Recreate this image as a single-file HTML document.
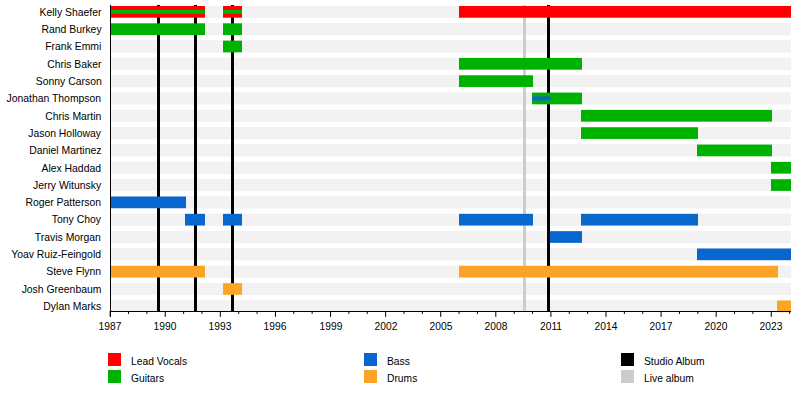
<!DOCTYPE html>
<html><head><meta charset="utf-8">
<style>
html,body{margin:0;padding:0;background:#fff;}
body{width:800px;height:401px;position:relative;overflow:hidden;font-family:"Liberation Sans",sans-serif;font-size:11px;color:#000;}
.lab{position:absolute;right:698.7px;white-space:nowrap;line-height:13px;transform:scaleX(0.945);transform-origin:100% 50%;}
.yr{position:absolute;top:320px;width:40px;text-align:center;line-height:13px;transform:scaleX(0.93);}
.sq{position:absolute;width:13px;height:13px;}
.lt{position:absolute;white-space:nowrap;line-height:13px;transform:scaleX(0.935);transform-origin:0 50%;}
</style></head><body>
<svg width="800" height="401" viewBox="0 0 800 401" style="position:absolute;left:0;top:0">
<rect x="110.16" y="5.80" width="680.84" height="12.20" fill="#f2f2f2"/>
<rect x="110.16" y="23.02" width="680.84" height="12.30" fill="#f2f2f2"/>
<rect x="110.16" y="40.34" width="680.84" height="12.30" fill="#f2f2f2"/>
<rect x="110.16" y="57.66" width="680.84" height="12.30" fill="#f2f2f2"/>
<rect x="110.16" y="74.98" width="680.84" height="12.30" fill="#f2f2f2"/>
<rect x="110.16" y="92.30" width="680.84" height="12.30" fill="#f2f2f2"/>
<rect x="110.16" y="109.62" width="680.84" height="12.30" fill="#f2f2f2"/>
<rect x="110.16" y="126.94" width="680.84" height="12.30" fill="#f2f2f2"/>
<rect x="110.16" y="144.26" width="680.84" height="12.30" fill="#f2f2f2"/>
<rect x="110.16" y="161.58" width="680.84" height="12.30" fill="#f2f2f2"/>
<rect x="110.16" y="178.90" width="680.84" height="12.30" fill="#f2f2f2"/>
<rect x="110.16" y="196.22" width="680.84" height="12.30" fill="#f2f2f2"/>
<rect x="110.16" y="213.54" width="680.84" height="12.30" fill="#f2f2f2"/>
<rect x="110.16" y="230.86" width="680.84" height="12.30" fill="#f2f2f2"/>
<rect x="110.16" y="248.18" width="680.84" height="12.30" fill="#f2f2f2"/>
<rect x="110.16" y="265.50" width="680.84" height="12.30" fill="#f2f2f2"/>
<rect x="110.16" y="282.82" width="680.84" height="12.30" fill="#f2f2f2"/>
<rect x="110.16" y="300.14" width="680.84" height="10.86" fill="#f2f2f2"/>
<rect x="157.0" y="5" width="3" height="306.5" fill="#000"/>
<rect x="194.0" y="5" width="3" height="306.5" fill="#000"/>
<rect x="231.0" y="5" width="3" height="306.5" fill="#000"/>
<rect x="547.0" y="5" width="3" height="306.5" fill="#000"/>
<rect x="523.0" y="5" width="3" height="306.5" fill="#cccccc"/>
<rect x="110.5" y="6.00" width="94.50" height="11.7" fill="#ff0000"/>
<rect x="223" y="6.00" width="19.00" height="11.7" fill="#ff0000"/>
<rect x="459" y="6.00" width="332.00" height="11.7" fill="#ff0000"/>
<rect x="110.5" y="23.32" width="94.50" height="11.7" fill="#00b200"/>
<rect x="223" y="23.32" width="19.00" height="11.7" fill="#00b200"/>
<rect x="223" y="40.64" width="19.00" height="11.7" fill="#00b200"/>
<rect x="459" y="57.96" width="123.00" height="11.7" fill="#00b200"/>
<rect x="459" y="75.28" width="74.00" height="11.7" fill="#00b200"/>
<rect x="532" y="92.60" width="50.00" height="11.7" fill="#00b200"/>
<rect x="581" y="109.92" width="191.00" height="11.7" fill="#00b200"/>
<rect x="581" y="127.24" width="117.00" height="11.7" fill="#00b200"/>
<rect x="697" y="144.56" width="75.00" height="11.7" fill="#00b200"/>
<rect x="771" y="161.88" width="20.00" height="11.7" fill="#00b200"/>
<rect x="771" y="179.20" width="20.00" height="11.7" fill="#00b200"/>
<rect x="110.5" y="196.52" width="75.50" height="11.7" fill="#0867cf"/>
<rect x="185" y="213.84" width="20.00" height="11.7" fill="#0867cf"/>
<rect x="223" y="213.84" width="19.00" height="11.7" fill="#0867cf"/>
<rect x="459" y="213.84" width="74.00" height="11.7" fill="#0867cf"/>
<rect x="581" y="213.84" width="117.00" height="11.7" fill="#0867cf"/>
<rect x="550" y="231.16" width="32.00" height="11.7" fill="#0867cf"/>
<rect x="697" y="248.48" width="94.00" height="11.7" fill="#0867cf"/>
<rect x="110.5" y="265.80" width="94.50" height="11.7" fill="#fca426"/>
<rect x="459" y="265.80" width="319.00" height="11.7" fill="#fca426"/>
<rect x="223" y="283.12" width="19.00" height="11.7" fill="#fca426"/>
<rect x="777" y="300.44" width="14.00" height="11.7" fill="#fca426"/>
<rect x="110.5" y="9.85" width="94.50" height="4" fill="#00b200"/>
<rect x="223" y="9.85" width="19.00" height="4" fill="#00b200"/>
<rect x="532" y="96.45" width="18.50" height="4" fill="#0867cf"/>
<rect x="110" y="5" width="1" height="312" fill="#000"/>
<rect x="110" y="311" width="681.0" height="1" fill="#000"/>
<rect x="109.66" y="311" width="1" height="5.8" fill="#000"/>
<rect x="128.02" y="311" width="1" height="2.9" fill="#000"/>
<rect x="146.39" y="311" width="1" height="2.9" fill="#000"/>
<rect x="164.75" y="311" width="1" height="5.8" fill="#000"/>
<rect x="183.12" y="311" width="1" height="2.9" fill="#000"/>
<rect x="201.48" y="311" width="1" height="2.9" fill="#000"/>
<rect x="219.84" y="311" width="1" height="5.8" fill="#000"/>
<rect x="238.21" y="311" width="1" height="2.9" fill="#000"/>
<rect x="256.57" y="311" width="1" height="2.9" fill="#000"/>
<rect x="274.94" y="311" width="1" height="5.8" fill="#000"/>
<rect x="293.30" y="311" width="1" height="2.9" fill="#000"/>
<rect x="311.66" y="311" width="1" height="2.9" fill="#000"/>
<rect x="330.03" y="311" width="1" height="5.8" fill="#000"/>
<rect x="348.39" y="311" width="1" height="2.9" fill="#000"/>
<rect x="366.76" y="311" width="1" height="2.9" fill="#000"/>
<rect x="385.12" y="311" width="1" height="5.8" fill="#000"/>
<rect x="403.48" y="311" width="1" height="2.9" fill="#000"/>
<rect x="421.85" y="311" width="1" height="2.9" fill="#000"/>
<rect x="440.21" y="311" width="1" height="5.8" fill="#000"/>
<rect x="458.58" y="311" width="1" height="2.9" fill="#000"/>
<rect x="476.94" y="311" width="1" height="2.9" fill="#000"/>
<rect x="495.30" y="311" width="1" height="5.8" fill="#000"/>
<rect x="513.67" y="311" width="1" height="2.9" fill="#000"/>
<rect x="532.03" y="311" width="1" height="2.9" fill="#000"/>
<rect x="550.40" y="311" width="1" height="5.8" fill="#000"/>
<rect x="568.76" y="311" width="1" height="2.9" fill="#000"/>
<rect x="587.12" y="311" width="1" height="2.9" fill="#000"/>
<rect x="605.49" y="311" width="1" height="5.8" fill="#000"/>
<rect x="623.85" y="311" width="1" height="2.9" fill="#000"/>
<rect x="642.22" y="311" width="1" height="2.9" fill="#000"/>
<rect x="660.58" y="311" width="1" height="5.8" fill="#000"/>
<rect x="678.94" y="311" width="1" height="2.9" fill="#000"/>
<rect x="697.31" y="311" width="1" height="2.9" fill="#000"/>
<rect x="715.67" y="311" width="1" height="5.8" fill="#000"/>
<rect x="734.04" y="311" width="1" height="2.9" fill="#000"/>
<rect x="752.40" y="311" width="1" height="2.9" fill="#000"/>
<rect x="770.76" y="311" width="1" height="5.8" fill="#000"/>
<rect x="789.13" y="311" width="1" height="2.9" fill="#000"/>
</svg>
<div class="lab" style="top:5.65px">Kelly Shaefer</div>
<div class="lab" style="top:22.97px">Rand Burkey</div>
<div class="lab" style="top:40.29px">Frank Emmi</div>
<div class="lab" style="top:57.61px">Chris Baker</div>
<div class="lab" style="top:74.93px">Sonny Carson</div>
<div class="lab" style="top:92.25px">Jonathan Thompson</div>
<div class="lab" style="top:109.57px">Chris Martin</div>
<div class="lab" style="top:126.89px">Jason Holloway</div>
<div class="lab" style="top:144.21px">Daniel Martinez</div>
<div class="lab" style="top:161.53px">Alex Haddad</div>
<div class="lab" style="top:178.85px">Jerry Witunsky</div>
<div class="lab" style="top:196.17px">Roger Patterson</div>
<div class="lab" style="top:213.49px">Tony Choy</div>
<div class="lab" style="top:230.81px">Travis Morgan</div>
<div class="lab" style="top:248.13px">Yoav Ruiz-Feingold</div>
<div class="lab" style="top:265.45px">Steve Flynn</div>
<div class="lab" style="top:282.77px">Josh Greenbaum</div>
<div class="lab" style="top:300.09px">Dylan Marks</div>
<div class="yr" style="left:90.16px">1987</div>
<div class="yr" style="left:145.25px">1990</div>
<div class="yr" style="left:200.34px">1993</div>
<div class="yr" style="left:255.44px">1996</div>
<div class="yr" style="left:310.53px">1999</div>
<div class="yr" style="left:365.62px">2002</div>
<div class="yr" style="left:420.71px">2005</div>
<div class="yr" style="left:475.80px">2008</div>
<div class="yr" style="left:530.90px">2011</div>
<div class="yr" style="left:585.99px">2014</div>
<div class="yr" style="left:641.08px">2017</div>
<div class="yr" style="left:696.17px">2020</div>
<div class="yr" style="left:751.26px">2023</div>
<div class="sq" style="left:108px;top:353px;background:#ff0000"></div>
<div class="lt" style="left:130.5px;top:355px">Lead Vocals</div>
<div class="sq" style="left:108px;top:370px;background:#00b200"></div>
<div class="lt" style="left:130.5px;top:372px">Guitars</div>
<div class="sq" style="left:364px;top:353px;background:#0867cf"></div>
<div class="lt" style="left:386.5px;top:355px">Bass</div>
<div class="sq" style="left:364px;top:370px;background:#fca426"></div>
<div class="lt" style="left:386.5px;top:372px">Drums</div>
<div class="sq" style="left:621px;top:353px;background:#000"></div>
<div class="lt" style="left:643.5px;top:355px">Studio Album</div>
<div class="sq" style="left:621px;top:370px;background:#cccccc"></div>
<div class="lt" style="left:643.5px;top:372px">Live album</div>
</body></html>
